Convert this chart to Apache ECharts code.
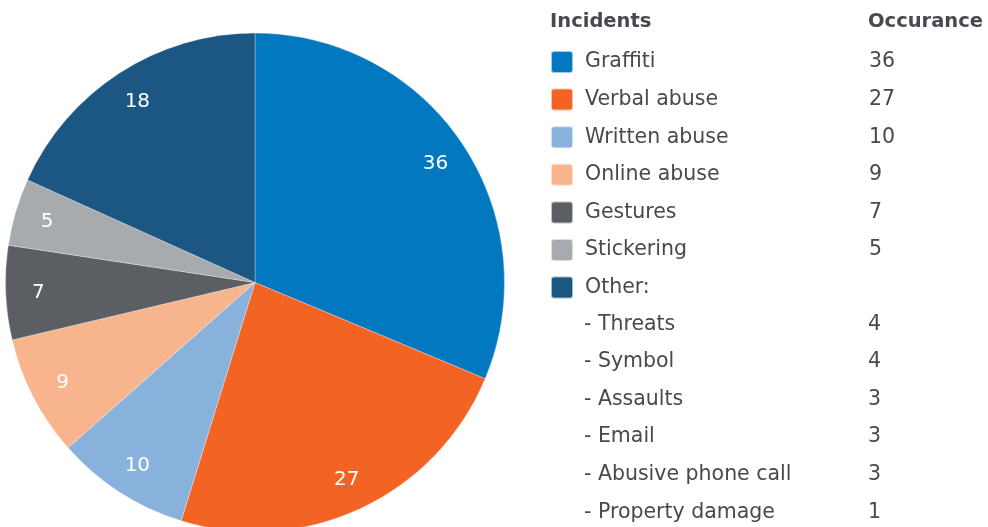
<!DOCTYPE html>
<html><head><meta charset="utf-8">
<script src="https://cdn.jsdelivr.net/npm/echarts@6/dist/echarts.min.js"></script>
<style>html,body{margin:0;padding:0;background:#fff}#c{width:988px;height:527px}</style>
</head><body><div id="c"></div>
<script>
const categories = ['Graffiti','Verbal abuse','Written abuse','Online abuse','Gestures','Stickering','Other:'];
// printed occurrence numbers
const labelValues = [36,27,10,9,7,5,18];
// slice sizes (the "Other" slice is drawn larger than its label)
const sliceValues = [36,27,10,9,7,5,21];
const colors = ['#0278c1','#f26324','#88b2dc','#f7b48d','#5b5f63','#a8abae','#1b5782'];
const otherNames = ['- Threats','- Symbol','- Assaults','- Email','- Abusive phone call','- Property damage'];
const otherValues = [4,4,3,3,3,1];
const headers = ['Incidents','Occurance'];

const FONT = 'DejaVu Sans';
const TXT = '#46494e';
const ROW0 = 61, ROWH = 37.6;
const FS = 20.5;

const chart = echarts.init(document.getElementById('c'), null, {renderer:'canvas'});
const data = categories.map((n,i)=>({name:n, value:sliceValues[i], itemStyle:{color:colors[i]}}));
const valueMap = {}; categories.forEach((n,i)=>valueMap[n]= n==='Other:' ? '' : String(labelValues[i]));

const graphics = [];
graphics.push({type:'text', x:550, y:ROW0-39, style:{text:headers[0], font:'bold 19.5px "'+FONT+'"', fill:TXT, verticalAlign:'middle'}});
graphics.push({type:'text', x:868, y:ROW0-39, style:{text:headers[1], font:'bold 19.5px "'+FONT+'"', fill:TXT, verticalAlign:'middle'}});
otherNames.forEach((n,k)=>{
  const y = ROW0 + (7+k)*ROWH;
  graphics.push({type:'text', x:584, y:y, style:{text:n, font:FS+'px "'+FONT+'"', fill:TXT, verticalAlign:'middle'}});
  graphics.push({type:'text', x:868, y:y, style:{text:String(otherValues[k]), font:FS+'px "'+FONT+'"', fill:TXT, verticalAlign:'middle'}});
});

chart.setOption({
  animation:false,
  legend:{
    orient:'vertical', left:550, top:ROW0-11, padding:0, itemWidth:22, itemHeight:22, itemGap:ROWH-24,
    icon:'path://M3,0H19A3,3 0 0 1 22,3V19A3,3 0 0 1 19,22H3A3,3 0 0 1 0,19V3A3,3 0 0 1 3,0Z',
    selectedMode:false, data:categories,
    formatter: n => '{n|'+n+'}{v|'+valueMap[n]+'}',
    textStyle:{ lineHeight:22, rich:{
      n:{width:284, padding:[0,0,0,7], fontSize:FS, fontFamily:FONT, color:TXT, lineHeight:22},
      v:{fontSize:FS, fontFamily:FONT, color:TXT, lineHeight:22}
    }}
  },
  graphic: graphics,
  series:[
    {type:'pie', center:[255,282.5], radius:[0,249.5], startAngle:90, clockwise:true,
     data:data, label:{show:false}, labelLine:{show:false}, silent:true,
     itemStyle:{borderColor:'rgba(255,255,255,0.6)', borderWidth:0.5}},
    {type:'pie', center:[255,283.5], radius:[178,249.5], startAngle:90, clockwise:true,
     data:categories.map((n,i)=>({name:n+' ', value:sliceValues[i], lbl:labelValues[i]})), silent:true, legendHoverLink:false,
     itemStyle:{color:'rgba(0,0,0,0)'},
     label:{show:true, position:'inside', formatter:p=>String(p.data.lbl), color:'#fff', fontSize:20, fontFamily:FONT},
     labelLine:{show:false}}
  ]
});
</script></body></html>
